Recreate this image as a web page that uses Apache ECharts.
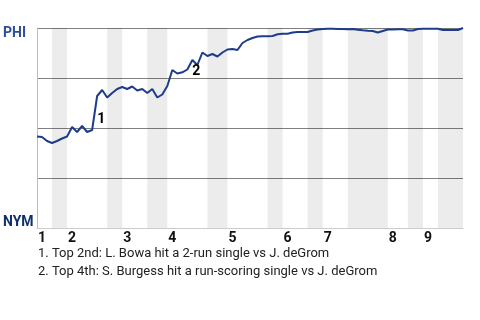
<!DOCTYPE html>
<html>
<head>
<meta charset="utf-8">
<script src="https://cdn.jsdelivr.net/npm/echarts@6/dist/echarts.min.js"></script>
<style>html,body{margin:0;padding:0;background:#fff}#c{width:480px;height:320px}</style>
</head>
<body>
<div id="c"></div>
<script>
// Half-inning boundaries (event index where each half inning starts; last = end)
const halfInningStarts = [0,3,6,14,17,22,26,34,38,46,49,54,57,62,70,74,77,80,85];
const inningLabels = ['1','2','3','4','5','6','7','8','9'];
const teamTop = 'PHI';
const teamBottom = 'NYM';
// PHI win probability (%) after each event
const phiWinPct = [
  45.75, 45.5, 43.5, 42.5, 43.5, 44.75, 45.75, 50.5, 48, 51,
  48, 49, 66, 69, 65.25, 67.5, 69.5, 70.5, 69.5, 70.75,
  68.75, 69.5, 67.5, 69.5, 65.25, 66.75, 71, 79, 77.25, 77.85,
  79.25, 84, 81.5, 87.75, 86, 87, 85.75, 87.75, 89.25, 89.5,
  89, 92.5, 94, 95, 95.75, 95.85, 95.85, 96, 96.85, 97.15,
  97.15, 97.75, 98, 98, 98, 98.75, 99.25, 99.5, 99.65, 99.65,
  99.5, 99.5, 99.35, 99.5, 99.15, 98.85, 98.65, 98.5, 97.75, 98.5,
  99.25, 99.25, 99.35, 99.35, 98.75, 98.75, 99.5, 99.65, 99.65, 99.65,
  99.65, 99, 99, 99, 99, 100
];
const keyEventIdx = [12, 31];
const keyEventLabels = ['1', '2'];
const eventNotes = [
  '1. Top 2nd: L. Bowa hit a 2-run single vs J. deGrom',
  '2. Top 4th: S. Burgess hit a run-scoring single vs J. deGrom'
];

const FONT = 'Roboto, "Noto Sans", sans-serif';
const inningStarts = halfInningStarts.filter((v, i) => i % 2 === 0 && i < 18);
const bottomBands = [];
for (let i = 1; i < halfInningStarts.length - 1; i += 2) {
  bottomBands.push([{ xAxis: halfInningStarts[i] }, { xAxis: halfInningStarts[i + 1] }]);
}

const chart = echarts.init(document.getElementById('c'), null, { renderer: 'canvas' });
chart.setOption({
  animation: false,
  backgroundColor: '#fff',
  title: {
    text: eventNotes.join('\n'),
    left: 38, top: 245, padding: 0,
    textStyle: { fontFamily: FONT, fontSize: 13, fontWeight: 'normal', color: '#222', lineHeight: 18 }
  },
  grid: { left: 37, right: 17, top: 28, height: 200 },
  xAxis: {
    type: 'value', min: 0, max: halfInningStarts[halfInningStarts.length - 1],
    axisLine: { show: true, lineStyle: { color: '#cccccc', width: 1 } },
    axisTick: { show: false },
    splitLine: { show: false },
    axisLabel: {
      customValues: inningStarts,
      hideOverlap: false,
      formatter: (v) => { const k = inningStarts.indexOf(v); return k >= 0 ? inningLabels[k] : ''; },
      align: 'left', margin: 3, padding: [0, 0, 0, 1],
      fontFamily: FONT, fontSize: 14, fontWeight: 'bold', color: '#111'
    }
  },
  yAxis: {
    type: 'value', min: 0, max: 100, interval: 25,
    axisLine: { show: true, lineStyle: { color: '#bbbbbb', width: 1 } },
    axisTick: { show: false },
    splitLine: { show: true, lineStyle: { color: ['#cccccc', '#808080', '#808080', '#808080', '#808080'], width: 1 } },
    axisLabel: {
      align: 'left', margin: 34,
      formatter: (v) => v === 100 ? '{p|' + teamTop + '}' : (v === 0 ? '{n|' + teamBottom + '}' : ''),
      rich: {
        p: { fontFamily: FONT, fontSize: 14, fontWeight: 'bold', color: '#2d4ea0', padding: [10, 0, 0, 0] },
        n: { fontFamily: FONT, fontSize: 14, fontWeight: 'bold', color: '#0f2f6e', padding: [0, 0, 12, 0] }
      }
    }
  },
  series: [
    {
      type: 'line',
      data: phiWinPct.map((v, i) => [i, v]),
      showSymbol: false, symbol: 'none',
      lineStyle: { color: '#1d3c8a', width: 2 },
      markArea: {
        silent: true,
        itemStyle: { color: 'rgba(0,0,0,0.075)' },
        data: bottomBands
      },
      markPoint: {
        silent: true,
        symbol: 'circle', symbolSize: 1,
        itemStyle: { color: 'rgba(0,0,0,0)' },
        label: {
          show: true, position: 'inside',
          fontFamily: FONT, fontSize: 14, fontWeight: 'bold', color: '#000',
          textBorderWidth: 0
        },
        data: keyEventIdx.map((idx, k) => ({
          coord: [idx, phiWinPct[idx]],
          value: keyEventLabels[k],
          label: { formatter: keyEventLabels[k], offset: k === 0 ? [4, 23] : [4, 11] }
        }))
      },
      z: 3
    }
  ]
});
</script>
</body>
</html>
